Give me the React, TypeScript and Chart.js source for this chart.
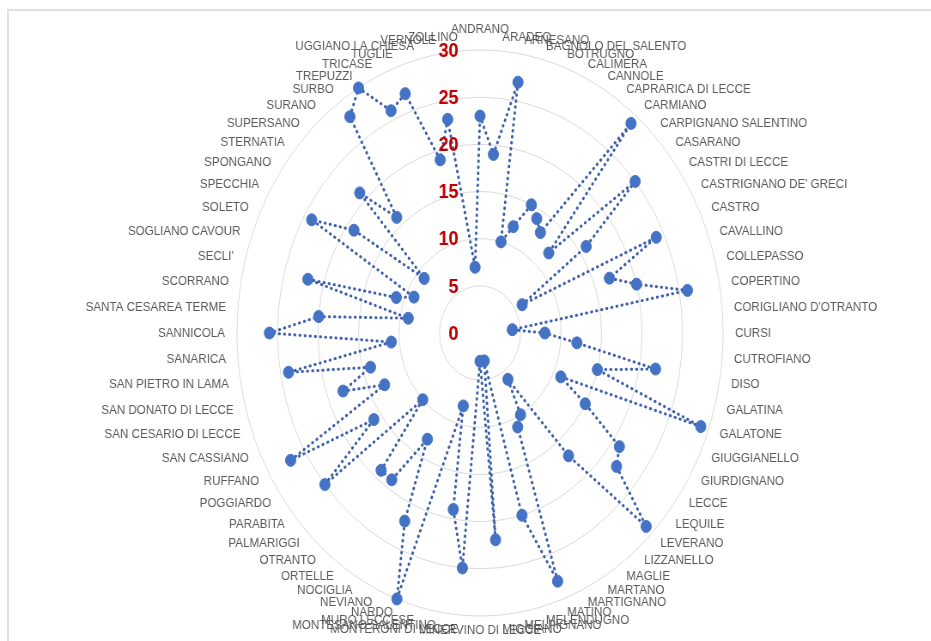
import React, { useEffect, useRef } from "react";
import { Chart, registerables } from "chart.js";

Chart.register(...registerables);

const categories: string[] = [
  "ANDRANO", "ARADEO", "ARNESANO", "BAGNOLO DEL SALENTO", "BOTRUGNO", "CALIMERA",
  "CANNOLE", "CAPRARICA DI LECCE", "CARMIANO", "CARPIGNANO SALENTINO", "CASARANO",
  "CASTRI DI LECCE", "CASTRIGNANO DE' GRECI", "CASTRO", "CAVALLINO", "COLLEPASSO",
  "COPERTINO", "CORIGLIANO D'OTRANTO", "CURSI", "CUTROFIANO", "DISO", "GALATINA",
  "GALATONE", "GIUGGIANELLO", "GIURDIGNANO", "LECCE", "LEQUILE", "LEVERANO",
  "LIZZANELLO", "MAGLIE", "MARTANO", "MARTIGNANO", "MATINO", "MELENDUGNO",
  "MELPIGNANO", "MIGGIANO", "MINERVINO DI LECCE", "MONTERONI DI LECCE",
  "MONTESANO SALENTINO", "MURO LECCESE", "NARDO", "NEVIANO", "NOCIGLIA", "ORTELLE",
  "OTRANTO", "PALMARIGGI", "PARABITA", "POGGIARDO", "RUFFANO", "SAN CASSIANO",
  "SAN CESARIO DI LECCE", "SAN DONATO DI LECCE", "SAN PIETRO IN LAMA", "SANARICA",
  "SANNICOLA", "SANTA CESAREA TERME", "SCORRANO", "SECLI'", "SOGLIANO CAVOUR",
  "SOLETO", "SPECCHIA", "SPONGANO", "STERNATIA", "SUPERSANO", "SURANO", "SURBO",
  "TREPUZZI", "TRICASE", "TUGLIE", "UGGIANO LA CHIESA", "VERNOLE", "ZOLLINO",
];

const values: number[] = [
  23, 19, 27, 10, 12, 15,
  14, 13, 29, 12, 25,
  16, 6, 24, 17, 20,
  26, 4, 8, 12, 22, 15,
  29, 11, 15, 21, 22, 29,
  17, 6, 10, 11, 28, 20,
  3, 22, 3, 25,
  19, 8, 30, 22, 13, 19,
  19, 10, 25, 16, 27, 13,
  18, 14, 24, 11,
  26, 20, 9, 22, 11,
  9, 24, 19, 9, 21, 16, 28,
  30, 26, 27, 19, 23, 7,
];

const tickValues: number[] = [0, 5, 10, 15, 20, 25, 30];

const PAGE_W = 931;
const PAGE_H = 641;
const SCALE_X = 0.8587;
const CANVAS_W = Math.round(PAGE_W / SCALE_X);
const CANVAS_H = PAGE_H;
const PAD_LEFT = 276;
const PAD_TOP = 50;
const AREA = 566;

export default function App() {
  const ref = useRef<HTMLCanvasElement>(null);

  useEffect(() => {
    const canvas = ref.current;
    if (!canvas) return;

    const tickPlugin = {
      id: "tickLabelsCustom",
      afterDatasetsDraw(chart: any) {
        const scale = chart.scales.r;
        const ctx = chart.ctx;
        ctx.save();
        ctx.font = 'bold 21px "Liberation Sans", Arial, sans-serif';
        ctx.fillStyle = "#C00000";
        ctx.textAlign = "right";
        ctx.textBaseline = "middle";
        tickValues.forEach((v) => {
          const d = scale.getDistanceFromCenterForValue(v);
          ctx.fillText(String(v), scale.xCenter - 25, scale.yCenter - d + 1);
        });
        ctx.restore();
      },
    };

    const labelPlugin = {
      id: "pointLabelsCustom",
      afterDatasetsDraw(chart: any) {
        const scale = chart.scales.r;
        const ctx = chart.ctx;
        ctx.save();
        ctx.font = '13.5px "Liberation Sans", Arial, sans-serif';
        ctx.fillStyle = "#595959";
        const dist = scale.drawingArea + 14;
        categories.forEach((label, i) => {
          const p = scale.getPointPosition(i, dist);
          const deg = (i * 360) / categories.length;
          ctx.textAlign = deg === 0 || deg === 180 ? "center" : deg < 180 ? "left" : "right";
          ctx.textBaseline = deg === 0 ? "bottom" : "middle";
          ctx.fillText(label, p.x, p.y);
        });
        ctx.restore();
      },
    };

    const chart = new Chart(canvas, {
      type: "radar",
      data: {
        labels: categories,
        datasets: [
          {
            data: values,
            borderColor: "#3B5EA8",
            borderWidth: 3,
            borderDash: [0.5, 5.5],
            borderCapStyle: "round",
            pointRadius: 6,
            pointBackgroundColor: "#4472C4",
            pointBorderColor: "#4472C4",
            pointBorderWidth: 1,
            fill: false,
            tension: 0,
          } as any,
        ],
      },
      options: {
        responsive: false,
        animation: false,
        layout: {
          padding: {
            left: PAD_LEFT,
            right: CANVAS_W - PAD_LEFT - AREA,
            top: PAD_TOP,
            bottom: CANVAS_H - PAD_TOP - AREA,
          },
        },
        plugins: {
          legend: { display: false },
          tooltip: { enabled: false },
        },
        scales: {
          r: {
            min: 0,
            max: 30,
            ticks: { display: false, stepSize: 5 },
            grid: { circular: true, color: "#D9D9D9", lineWidth: 1 },
            angleLines: { display: false },
            pointLabels: { display: false },
          },
        },
      } as any,
      plugins: [tickPlugin, labelPlugin],
    });

    return () => chart.destroy();
  }, []);

  return (
    <div
      style={{
        position: "fixed",
        left: 0,
        top: 0,
        width: PAGE_W,
        height: PAGE_H,
        overflow: "hidden",
        background: "#ffffff",
      }}
    >
      <div
        style={{
          position: "absolute",
          left: 7,
          top: 9,
          width: 2000,
          height: 2000,
          borderLeft: "2px solid #e0e0e0",
          borderTop: "2px solid #e0e0e0",
        }}
      />
      <canvas
        ref={ref}
        width={CANVAS_W}
        height={CANVAS_H}
        style={{
          position: "absolute",
          left: 0,
          top: 0,
          transform: `scaleX(${SCALE_X})`,
          transformOrigin: "0 0",
        }}
      />
    </div>
  );
}
